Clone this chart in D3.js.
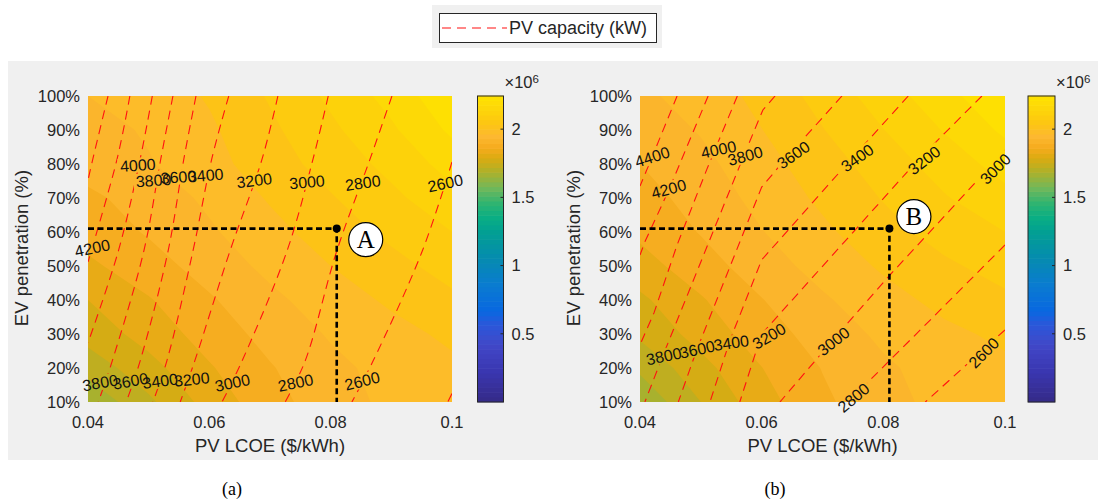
<!DOCTYPE html>
<html><head><meta charset="utf-8">
<script src="https://cdn.jsdelivr.net/npm/d3@7"></script>
<style>
body{margin:0;background:#fff;}
svg{display:block;}
</style>
</head><body>
<svg id="chart" width="1101" height="501"></svg>
<script>
// ---------------- DATA ----------------
const lcoeGrid = [0.04, 0.05, 0.06, 0.07, 0.08, 0.09, 0.10];
const evGrid = [10, 20, 30, 40, 50, 60, 70, 80, 90, 100];
// filled surface (x10^6), rows EV 10 -> 100, columns LCOE 0.04 -> 0.10
const surfaceA = [
  [1.66, 1.74, 1.82, 1.881, 1.929, 1.961, 1.98],
  [1.72, 1.782, 1.845, 1.896, 1.937, 1.967, 1.99],
  [1.77, 1.82, 1.872, 1.917, 1.955, 1.984, 2.01],
  [1.80, 1.846, 1.894, 1.938, 1.976, 2.008, 2.04],
  [1.84, 1.879, 1.921, 1.963, 2.00, 2.034, 2.07],
  [1.87, 1.905, 1.943, 1.984, 2.024, 2.062, 2.10],
  [1.89, 1.921, 1.960, 2.005, 2.046, 2.088, 2.135],
  [1.92, 1.946, 1.982, 2.027, 2.070, 2.115, 2.17],
  [1.93, 1.956, 1.992, 2.040, 2.090, 2.142, 2.21],
  [1.95, 1.972, 2.005, 2.055, 2.110, 2.168, 2.24]
];
const surfaceB = [
  [1.66, 1.75, 1.83, 1.89, 1.935, 1.964, 1.98],
  [1.71, 1.783, 1.849, 1.902, 1.942, 1.971, 1.99],
  [1.76, 1.82, 1.876, 1.922, 1.96, 1.989, 2.01],
  [1.79, 1.845, 1.898, 1.943, 1.982, 2.014, 2.04],
  [1.83, 1.878, 1.926, 1.969, 2.007, 2.041, 2.07],
  [1.86, 1.903, 1.948, 1.99, 2.032, 2.070, 2.10],
  [1.88, 1.92, 1.966, 2.010, 2.053, 2.096, 2.135],
  [1.90, 1.936, 1.982, 2.027, 2.074, 2.122, 2.17],
  [1.92, 1.954, 1.999, 2.048, 2.099, 2.153, 2.21],
  [1.94, 1.97, 2.015, 2.068, 2.124, 2.184, 2.24]
];
const surfaceLevels = d3.range(0, 2.30, 0.05);

// PV capacity (kW) contour lines: [LCOE, EV%] points
const pvLinesA = [
  {level: 4400, pts: [[0.0433,100],[0.0408,81.5],[0.04,75.3]]},
  {level: 4200, pts: [[0.0469,100],[0.0448,81.5],[0.04,51.2]]},
  {level: 4000, pts: [[0.0506,100],[0.0486,81.5],[0.0450,54.4],[0.04,27.4]]},
  {level: 3800, pts: [[0.0540,100],[0.0520,81.5],[0.0492,54.4],[0.0440,22.1],[0.0417,10]]},
  {level: 3600, pts: [[0.0578,100],[0.0558,81.5],[0.0532,54.4],[0.0486,22.1],[0.0463,10]]},
  {level: 3400, pts: [[0.0632,100],[0.0604,81.5],[0.0573,54.4],[0.0530,22.1],[0.0507,10]]},
  {level: 3200, pts: [[0.0713,100],[0.0687,81.5],[0.0634,54.4],[0.0576,22.1],[0.0552,10]]},
  {level: 3000, pts: [[0.0796,100],[0.0771,81.5],[0.0728,54.4],[0.0654,22.1],[0.0621,10]]},
  {level: 2800, pts: [[0.0901,100],[0.0865,81.5],[0.0810,54.4],[0.0758,22.1],[0.0725,10]]},
  {level: 2600, pts: [[0.1,80.6],[0.0951,54.4],[0.0870,22.1],[0.0835,10]]},
  {level: 2400, pts: [[0.1,12.5],[0.0993,10]]}
];
const pvLinesB = [
  {level: 4400, pts: [[0.0461,100],[0.0420,82.1],[0.04,73.5]]},
  {level: 4200, pts: [[0.0512,100],[0.0448,72.6],[0.0408,57.1],[0.04,53.2]]},
  {level: 4000, pts: [[0.0560,100],[0.0510,78.5],[0.0461,56.2],[0.0423,36.2],[0.04,26.8]]},
  {level: 3800, pts: [[0.0622,100],[0.0602,95.9],[0.0571,82.6],[0.0438,23.8],[0.0408,10]]},
  {level: 3600, pts: [[0.0732,100],[0.0642,82.1],[0.0600,73.2],[0.0492,24.7],[0.0463,10]]},
  {level: 3400, pts: [[0.0841,100],[0.0749,81.8],[0.0600,51.8],[0.0548,28.2],[0.0515,10]]},
  {level: 3200, pts: [[0.0962,100],[0.0857,81.2],[0.0600,30.0],[0.0564,10]]},
  {level: 3000, pts: [[0.1,84.1],[0.0910,66.5],[0.0811,47.4],[0.0717,28.2],[0.0630,10]]},
  {level: 2800, pts: [[0.1,56.2],[0.0877,34.1],[0.0742,10]]},
  {level: 2600, pts: [[0.1,31.2],[0.0869,10]]}
];
// contour labels: [level, LCOE, EV%, angle]
const pvLabelsA = [
  [4200,0.0407,55.3,-12],[4000,0.0482,79.7,-4],[3800,0.0508,75.2,-4],[3600,0.0549,76.2,-4],
  [3400,0.0594,76.7,-5],[3200,0.0674,75.2,-7],[3000,0.0761,74.7,-5],[2800,0.0853,74.5,-8],
  [2600,0.0989,74.4,-12],
  [3800,0.0420,15.7,-10],[3600,0.0470,16.2,-10],[3400,0.0519,16.2,-8],[3200,0.0571,16.7,-6],
  [3000,0.0638,15.7,-12],[2800,0.0742,15.7,-12],[2600,0.0852,16.2,-14]
];
const pvLabelsB = [
  [4400,0.0420,82.1,-18],[4200,0.0447,72.7,-15],[4000,0.0529,84.3,-12],[3800,0.0573,82.4,-15],
  [3600,0.0652,82.7,-35],[3400,0.0757,81.8,-35],[3200,0.0867,81.1,-38],[3000,0.0984,78.6,-45],
  [3800,0.0439,23.5,-12],[3600,0.0494,25.5,-12],[3400,0.0550,27.4,-8],[3200,0.0612,29.4,-30],
  [3000,0.0718,27.9,-38],[2800,0.0751,11.3,-40],[2600,0.0965,24.5,-45]
];
const pointA = [0.081, 61];
const pointB = [0.081, 61];

const xTicks = [0.04, 0.06, 0.08, 0.1];
const xTickLabels = ["0.04", "0.06", "0.08", "0.1"];
const yTicks = [10, 20, 30, 40, 50, 60, 70, 80, 90, 100];
const yTickLabels = ["10%","20%","30%","40%","50%","60%","70%","80%","90%","100%"];
const cbTicks = [0.5, 1, 1.5, 2];
const cbTickLabels = ["0.5", "1", "1.5", "2"];
const cbRange = [0, 2.243];

// colormap (parula-like, sampled from the colorbar)
const cmapVals = [0, 0.22, 0.42, 0.57, 0.67, 0.86, 1.06, 1.25, 1.35, 1.45, 1.57, 1.69, 1.79, 1.86, 1.95, 2.03, 2.13, 2.243];
const cmapCols = ["#352a87","#3a36b0","#4148c8","#2a58da","#0868e0","#0a7cd0","#058cae","#02a092","#0aae84",
                  "#2cb472","#72b85a","#b0b028","#dcab10","#f5ab1c","#fdb932","#fdc414","#fdd30a","#fee300"];

// ---------------- DRAW ----------------
const SANS = "'Liberation Sans', Arial, Helvetica, sans-serif";
const SERIF = "'Liberation Serif', 'Times New Roman', Times, serif";
const svg = d3.select("#chart").style("font-family", SANS);
const color = d3.scaleLinear().domain(cmapVals).range(cmapCols).clamp(true);
const defs = svg.append("defs");

// figure background
svg.append("rect").attr("x", 8).attr("y", 61).attr("width", 1090).attr("height", 399).attr("fill", "#f0f0f0");

// legend
svg.append("rect").attr("x", 432).attr("y", 5).attr("width", 230).attr("height", 43).attr("fill", "#f0f0f0");
svg.append("rect").attr("x", 439.5).attr("y", 13.5).attr("width", 217).attr("height", 29)
  .attr("fill", "#fff").attr("stroke", "#262626").attr("stroke-width", 1);
svg.append("line").attr("x1", 442).attr("x2", 507).attr("y1", 28).attr("y2", 28)
  .attr("stroke", "#f11").attr("stroke-width", 1.2).attr("stroke-dasharray", "9,6");
svg.append("text").attr("x", 509).attr("y", 28).attr("dy", "0.35em").attr("font-size", 18)
  .attr("fill", "#262626").text("PV capacity (kW)");

const panels = [
  {id: "a", x0: 88, x1: 452, surface: surfaceA, lines: pvLinesA, labels: pvLabelsA, smooth: true,
   point: pointA, pname: "A", pdx: 29, pdy: 11, cbx: 477.5, cbw: 26, caption: "(a)", capx: 232},
  {id: "b", x0: 640, x1: 1005, surface: surfaceB, lines: pvLinesB, labels: pvLabelsB, smooth: false,
   point: pointB, pname: "B", pdx: 24.5, pdy: -12, cbx: 1028, cbw: 27, caption: "(b)", capx: 775}
];
const yTop = 96, yBot = 402;

panels.forEach(p => {
  const x = d3.scaleLinear().domain([0.04, 0.1]).range([p.x0, p.x1]);
  const y = d3.scaleLinear().domain([10, 100]).range([yBot, yTop]);
  const g = svg.append("g");

  // filled contours
  const nx = lcoeGrid.length, ny = evGrid.length;
  const gi = d3.scaleLinear().domain([0, nx - 1]).range([lcoeGrid[0], lcoeGrid[nx - 1]]);
  const gj = d3.scaleLinear().domain([0, ny - 1]).range([evGrid[0], evGrid[ny - 1]]);
  const proj = d3.geoTransform({
    point(px, py) {
      const u = Math.max(0, Math.min(nx - 1, px - 0.5));
      const v = Math.max(0, Math.min(ny - 1, py - 0.5));
      this.stream.point(x(gi(u)), y(gj(v)));
    }
  });
  const path = d3.geoPath(proj);
  const cons = d3.contours().size([nx, ny]).thresholds(surfaceLevels)(p.surface.flat());
  g.append("rect").attr("x", p.x0).attr("y", yTop).attr("width", p.x1 - p.x0).attr("height", yBot - yTop)
    .attr("fill", color(d3.min(p.surface.flat())));
  g.selectAll("path.band").data(cons).join("path").attr("class", "band")
    .attr("d", path).attr("fill", d => color(d.value + 0.025)).attr("stroke", "none");

  // clip + mask for PV lines
  const clipId = "clip" + p.id, maskId = "mask" + p.id;
  defs.append("clipPath").attr("id", clipId).append("rect")
    .attr("x", p.x0).attr("y", yTop).attr("width", p.x1 - p.x0).attr("height", yBot - yTop);
  const mask = defs.append("mask").attr("id", maskId).attr("maskUnits", "userSpaceOnUse")
    .attr("x", 0).attr("y", 0).attr("width", 1101).attr("height", 501);
  mask.append("rect").attr("x", 0).attr("y", 0).attr("width", 1101).attr("height", 501).attr("fill", "#fff");
  p.labels.forEach(l => {
    mask.append("rect").attr("x", -20).attr("y", -7.5).attr("width", 40).attr("height", 15).attr("fill", "#000")
      .attr("transform", `translate(${x(l[1])},${y(l[2])}) rotate(${l[3]})`);
  });

  const line = d3.line().x(d => x(d[0])).y(d => y(d[1]))
    .curve(p.smooth ? d3.curveCatmullRom.alpha(0.5) : d3.curveLinear);
  const lg = g.append("g").attr("clip-path", `url(#${clipId})`).append("g").attr("mask", `url(#${maskId})`);
  lg.selectAll("path").data(p.lines).join("path")
    .attr("d", d => line(d.pts)).attr("fill", "none").attr("stroke", "#f11")
    .attr("stroke-width", 1.1).attr("stroke-dasharray", "9,6");

  // labels
  g.selectAll("text.cl").data(p.labels).join("text").attr("class", "cl")
    .attr("transform", l => `translate(${x(l[1])},${y(l[2])}) rotate(${l[3]})`)
    .attr("text-anchor", "middle").attr("dy", "0.36em").attr("font-size", 16).attr("fill", "#111")
    .text(l => l[0]);

  // guide lines and point
  const px = x(p.point[0]), py = y(p.point[1]);
  g.append("path").attr("d", `M${x(0.04)},${py}H${px}V${y(10)}`).attr("fill", "none")
    .attr("stroke", "#000").attr("stroke-width", 2.6).attr("stroke-dasharray", "6,3.5");
  g.append("circle").attr("cx", px).attr("cy", py).attr("r", 4).attr("fill", "#000");
  g.append("circle").attr("cx", px + p.pdx).attr("cy", py + p.pdy).attr("r", 17)
    .attr("fill", "#fff").attr("stroke", "#000").attr("stroke-width", 1.2);
  g.append("text").attr("x", px + p.pdx).attr("y", py + p.pdy).attr("dy", "0.35em").attr("text-anchor", "middle")
    .style("font-family", SERIF).attr("font-size", 25).attr("fill", "#000")
    .text(p.pname);

  // axes tick labels
  g.selectAll("text.xt").data(xTicks).join("text").attr("class", "xt")
    .attr("x", d => x(d)).attr("y", 422).attr("dy", "0.35em").attr("text-anchor", "middle")
    .attr("font-size", 16.5).attr("fill", "#262626").text((d, i) => xTickLabels[i]);
  g.selectAll("text.yt").data(yTicks).join("text").attr("class", "yt")
    .attr("x", p.x0 - 8).attr("y", d => y(d)).attr("dy", "0.35em").attr("text-anchor", "end")
    .attr("font-size", 16.5).attr("fill", "#262626").text((d, i) => yTickLabels[i]);
  g.append("text").attr("x", (p.x0 + p.x1) / 2).attr("y", 446).attr("dy", "0.35em").attr("text-anchor", "middle")
    .attr("font-size", 18.5).attr("fill", "#262626").text("PV LCOE ($/kWh)");
  g.append("text").attr("transform", `translate(${p.x0 - 66.5},248) rotate(-90)`).attr("dy", "0.35em")
    .attr("text-anchor", "middle").attr("font-size", 18.5).attr("fill", "#262626").text("EV penetration (%)");

  // colorbar
  const cy = d3.scaleLinear().domain(cbRange).range([yBot, yTop]);
  const nSteps = 64;
  const steps = d3.range(nSteps).map(i => cbRange[0] + (i + 0.5) * (cbRange[1] - cbRange[0]) / nSteps);
  const stepH = (yBot - yTop) / nSteps;
  g.selectAll("rect.cb").data(steps).join("rect").attr("class", "cb")
    .attr("x", p.cbx).attr("width", p.cbw).attr("y", d => cy(d) - stepH / 2 - 0.3).attr("height", stepH + 0.6)
    .attr("fill", d => color(d));
  g.append("rect").attr("x", p.cbx).attr("y", yTop).attr("width", p.cbw).attr("height", yBot - yTop)
    .attr("fill", "none").attr("stroke", "#262626").attr("stroke-width", 1);
  g.selectAll("line.cbt").data(cbTicks).join("line").attr("class", "cbt")
    .attr("x1", p.cbx + p.cbw - 3).attr("x2", p.cbx + p.cbw).attr("y1", d => cy(d)).attr("y2", d => cy(d))
    .attr("stroke", "#262626").attr("stroke-width", 1);
  g.selectAll("text.cbl").data(cbTicks).join("text").attr("class", "cbl")
    .attr("x", p.cbx + p.cbw + 8).attr("y", d => cy(d)).attr("dy", "0.35em")
    .attr("font-size", 16.5).attr("fill", "#262626").text((d, i) => cbTickLabels[i]);
  const ex = g.append("text").attr("x", p.cbx + p.cbw + 1).attr("y", 82).attr("dy", "0.35em")
    .attr("font-size", 16.5).attr("fill", "#262626");
  ex.append("tspan").text("×10");
  ex.append("tspan").attr("dy", "-0.45em").attr("font-size", 11.5).text("6");

  // caption
  svg.append("text").attr("x", p.capx).attr("y", 489).attr("dy", "0.35em").attr("text-anchor", "middle")
    .style("font-family", SERIF).attr("font-size", 18).attr("fill", "#000")
    .text(p.caption);
});
</script>
</body></html>
